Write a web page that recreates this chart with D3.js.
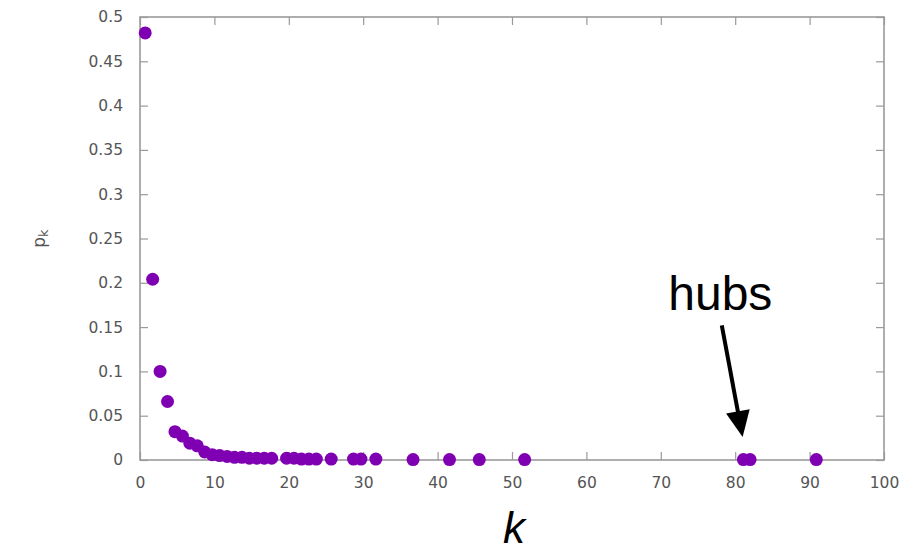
<!DOCTYPE html>
<html>
<head>
<meta charset="utf-8">
<script src="https://cdn.jsdelivr.net/npm/d3@7"></script>
<style>
  html, body { margin: 0; padding: 0; background: #fff; }
  svg { display: block; }
</style>
</head>
<body>
<svg id="chart" width="924" height="552"></svg>
<script>
// ---- data ----
const degreeK = [0.7, 1.7, 2.7, 3.7, 4.7, 5.7, 6.7, 7.7, 8.7, 9.7, 10.7, 11.7, 12.7, 13.7, 14.7, 15.7, 16.7, 17.7,
                 19.7, 20.7, 21.7, 22.7, 23.7, 25.7, 28.7, 29.7, 31.7, 36.7, 41.6, 45.6, 51.7, 81.1, 82.0, 90.9];
const probPk  = [0.482, 0.204, 0.100, 0.066, 0.032, 0.027, 0.019, 0.016, 0.009, 0.006, 0.005, 0.004, 0.003, 0.003, 0.002, 0.002, 0.002, 0.002,
                 0.002, 0.002, 0.001, 0.001, 0.001, 0.001, 0.001, 0.001, 0.001, 0.0005, 0.0005, 0.0005, 0.0005, 0.0005, 0.0005, 0.0005];
const xTicks = [0, 10, 20, 30, 40, 50, 60, 70, 80, 90, 100];
const yTicks = [0, 0.05, 0.1, 0.15, 0.2, 0.25, 0.3, 0.35, 0.4, 0.45, 0.5];
const yTickLabels = ["0", "0.05", "0.1", "0.15", "0.2", "0.25", "0.3", "0.35", "0.4", "0.45", "0.5"];
const annotationText = "hubs";
const annotationAt = [78, 0.169];           // text anchor (k, p)
const arrowFrom = [78.2, 0.152];            // arrow tail (k, p)
const arrowTo = [81.0, 0.026];              // arrow tip (k, p)

// ---- layout ----
const svg = d3.select("#chart");
const mLeft = 140, mRight = 884, mTop = 17, mBottom = 460;
const x = d3.scaleLinear().domain([0, 100]).range([mLeft, mRight]);
const y = d3.scaleLinear().domain([0, 0.5]).range([mBottom, mTop]);

const axisColor = "#9a9a9a";
const labelColor = "#555";
const tickFont = "DejaVu Sans, sans-serif";

function styleAxis(g, showLabels) {
  g.select(".domain").remove();
  g.selectAll(".tick line").attr("stroke", axisColor).attr("stroke-width", 1.2);
  g.selectAll(".tick text")
    .attr("fill", labelColor)
    .style("font-family", tickFont)
    .style("font-size", "15.5px");
  if (!showLabels) g.selectAll(".tick text").remove();
}

// bottom axis
svg.append("g").attr("transform", `translate(0,${mBottom})`)
  .call(d3.axisBottom(x).tickValues(xTicks).tickSize(-8).tickPadding(17).tickFormat(d3.format("d")))
  .call(g => styleAxis(g, true));
// top axis (mirror)
svg.append("g").attr("transform", `translate(0,${mTop})`)
  .call(d3.axisTop(x).tickValues(xTicks).tickSize(-8))
  .call(g => styleAxis(g, false));
// left axis
svg.append("g").attr("transform", `translate(${mLeft},0)`)
  .call(d3.axisLeft(y).tickValues(yTicks).tickSize(-8).tickPadding(17).tickFormat((d, i) => yTickLabels[i]))
  .call(g => styleAxis(g, true));
// right axis (mirror)
svg.append("g").attr("transform", `translate(${mRight},0)`)
  .call(d3.axisRight(y).tickValues(yTicks).tickSize(-8))
  .call(g => styleAxis(g, false));

// frame
svg.append("rect")
  .attr("x", x(0)).attr("y", y(0.5))
  .attr("width", x(100) - x(0)).attr("height", y(0) - y(0.5))
  .attr("fill", "none").attr("stroke", axisColor).attr("stroke-width", 1.6);

// points
svg.append("g").selectAll("circle")
  .data(degreeK.map((k, i) => ({ k, p: probPk[i] })))
  .join("circle")
  .attr("cx", d => x(d.k))
  .attr("cy", d => y(d.p))
  .attr("r", 6.5)
  .attr("fill", "#7f00b2");

// y label p_k (rotated)
const yl = svg.append("text")
  .attr("transform", `translate(45,${(mTop + mBottom) / 2}) rotate(-90)`)
  .attr("text-anchor", "middle")
  .attr("fill", labelColor)
  .style("font-family", tickFont)
  .style("font-size", "17px");
yl.append("tspan").text("p");
yl.append("tspan").attr("dy", 3).style("font-size", "13px").text("k");

// x label k
svg.append("text")
  .attr("x", x(50) + 2).attr("y", 543)
  .attr("text-anchor", "middle")
  .style("font-family", "Liberation Sans, Arial, sans-serif")
  .style("font-style", "italic")
  .style("font-size", "44px")
  .attr("fill", "#000")
  .text("k");

// annotation
svg.append("text")
  .attr("x", x(annotationAt[0])).attr("y", y(annotationAt[1]))
  .attr("text-anchor", "middle")
  .style("font-family", "Liberation Sans, Arial, sans-serif")
  .style("font-size", "48px")
  .attr("fill", "#000")
  .text(annotationText);

// arrow: shaft + filled head computed from scaled endpoints
const ax1 = x(arrowFrom[0]), ay1 = y(arrowFrom[1]);
const ax2 = x(arrowTo[0]), ay2 = y(arrowTo[1]);
const dx = ax2 - ax1, dy = ay2 - ay1, len = Math.hypot(dx, dy);
const ux = dx / len, uy = dy / len;
const headLen = 26, headHalf = 12;
const bx = ax2 - ux * headLen, by = ay2 - uy * headLen;
svg.append("line")
  .attr("x1", ax1).attr("y1", ay1)
  .attr("x2", bx + ux * 2).attr("y2", by + uy * 2)
  .attr("stroke", "#000").attr("stroke-width", 4);
svg.append("path")
  .attr("d", `M${ax2},${ay2} L${bx - uy * headHalf},${by + ux * headHalf} L${bx + uy * headHalf},${by - ux * headHalf} Z`)
  .attr("fill", "#000");
</script>
</body>
</html>
